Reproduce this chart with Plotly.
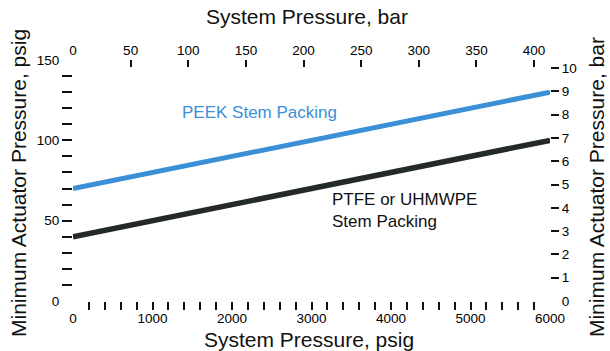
import plotly.graph_objects as go

# ---- data ----
system_psig = [0, 6000]
peek_psig = [70, 130]
ptfe_psig = [40, 100]

PSI_PER_BAR = 14.5
x_max_psig = 6000
y_max_psig = 150

bottom_minor_vals = list(range(200, 6000, 200))
bottom_label_vals = [1000, 2000, 3000, 4000, 5000]
bottom_edge_vals = [0, 6000]
left_tick_vals = list(range(10, 150, 10))
left_label_vals = [50, 100]
left_edge_vals = [0, 150]
top_tick_vals = [50, 100, 150, 200, 250, 300, 350, 400]
top_edge_vals = [0]
right_tick_vals = [1, 2, 3, 4, 5, 6, 7, 8, 9, 10]
right_edge_vals = [0]

BLUE = "#3b8fd6"
DARK = "#232a28"
FONT = "Liberation Sans, Arial, sans-serif"
TICKFONT = dict(family=FONT, size=13.5, color="#000000")

fig = go.Figure()
fig.add_trace(go.Scatter(x=system_psig, y=peek_psig, mode="lines",
                         line=dict(color=BLUE, width=5), showlegend=False, hoverinfo="skip"))
fig.add_trace(go.Scatter(x=system_psig, y=ptfe_psig, mode="lines",
                         line=dict(color=DARK, width=5.5), showlegend=False, hoverinfo="skip"))
# helper traces so secondary axes are drawn
fig.add_trace(go.Scatter(x=[], y=[], xaxis="x2", yaxis="y2", showlegend=False, hoverinfo="skip"))
fig.add_trace(go.Scatter(x=[], y=[], xaxis="x3", yaxis="y3", showlegend=False, hoverinfo="skip"))
fig.add_trace(go.Scatter(x=[], y=[], xaxis="x4", yaxis="y4", showlegend=False, hoverinfo="skip"))

common = dict(showgrid=False, zeroline=False, showline=False, tickfont=TICKFONT, fixedrange=True)
clear = "rgba(0,0,0,0)"

fig.update_layout(
    width=610, height=351,
    margin=dict(l=73, r=60, t=60, b=50, pad=0),
    paper_bgcolor="white", plot_bgcolor="white",
    font=dict(family=FONT, color="#111111"),
    xaxis=dict(range=[0, x_max_psig], tickmode="array", tickvals=bottom_minor_vals,
               ticktext=[str(v) if v in bottom_label_vals else "" for v in bottom_minor_vals],
               ticks="outside", ticklen=8, tickwidth=1.6, tickcolor="#111111",
               ticklabelstandoff=-3, **common),
    yaxis=dict(range=[0, y_max_psig], tickmode="array", tickvals=left_tick_vals,
               ticktext=[str(v) if v in left_label_vals else "" for v in left_tick_vals],
               ticks="outside", ticklen=10, tickwidth=2, tickcolor="#111111", **common),
    xaxis2=dict(range=[0, x_max_psig / PSI_PER_BAR], overlaying="x", side="top", anchor="y",
                tickmode="array", tickvals=top_tick_vals, ticktext=[str(v) for v in top_tick_vals],
                ticks="inside", ticklen=7, tickwidth=1.6, tickcolor="#111111",
                ticklabelstandoff=1, **common),
    yaxis2=dict(range=[0, y_max_psig / PSI_PER_BAR], overlaying="y", side="right", anchor="x",
                tickmode="array", tickvals=right_tick_vals, ticktext=[str(v) for v in right_tick_vals],
                ticks="outside", ticklen=8, tickwidth=2, tickcolor="#111111", **common),
    xaxis3=dict(range=[0, x_max_psig], overlaying="x", side="bottom", anchor="y3",
                tickmode="array", tickvals=bottom_edge_vals, ticktext=[str(v) for v in bottom_edge_vals],
                ticks="outside", ticklen=8, tickcolor=clear, ticklabelstandoff=-3, **common),
    yaxis3=dict(range=[0, y_max_psig], overlaying="y", side="left", anchor="x3",
                tickmode="array", tickvals=left_edge_vals, ticktext=[str(v) for v in left_edge_vals],
                ticks="outside", ticklen=10, tickcolor=clear, **common),
    xaxis4=dict(range=[0, x_max_psig / PSI_PER_BAR], overlaying="x", side="top", anchor="y4",
                tickmode="array", tickvals=top_edge_vals, ticktext=[str(v) for v in top_edge_vals],
                ticks="inside", ticklen=7, tickcolor=clear, ticklabelstandoff=1, **common),
    yaxis4=dict(range=[0, y_max_psig / PSI_PER_BAR], overlaying="y", side="right", anchor="x4",
                tickmode="array", tickvals=right_edge_vals, ticktext=[str(v) for v in right_edge_vals],
                ticks="outside", ticklen=8, tickcolor=clear, **common),
)

TITLE = dict(family=FONT, size=21, color="#111111")
fig.add_annotation(text="System Pressure, bar", xref="paper", yref="paper", x=0.4906, y=1.182,
                   xanchor="center", yanchor="middle", showarrow=False, font=TITLE)
fig.add_annotation(text="System Pressure, psig", xref="paper", yref="paper", x=0.494, y=-0.16,
                   xanchor="center", yanchor="middle", showarrow=False, font=TITLE)
fig.add_annotation(text="Minimum Actuator Pressure, psig", xref="paper", yref="paper", x=-0.113, y=0.49,
                   xanchor="center", yanchor="middle", textangle=-90, showarrow=False, font=TITLE)
fig.add_annotation(text="Minimum Actuator Pressure, bar", xref="paper", yref="paper", x=1.0965, y=0.473,
                   xanchor="center", yanchor="middle", textangle=-90, showarrow=False, font=TITLE)

fig.add_annotation(text="PEEK Stem Packing", x=1346, y=117.5, xref="x", yref="y",
                   xanchor="left", yanchor="middle", showarrow=False,
                   font=dict(family=FONT, size=17, color=BLUE))
fig.add_annotation(text="PTFE or UHMWPE<br>Stem Packing", x=3233, y=56.5, xref="x", yref="y",
                   xanchor="left", yanchor="middle", align="left", showarrow=False,
                   font=dict(family=FONT, size=17, color="#111111"))

fig.write_html("out.html")
